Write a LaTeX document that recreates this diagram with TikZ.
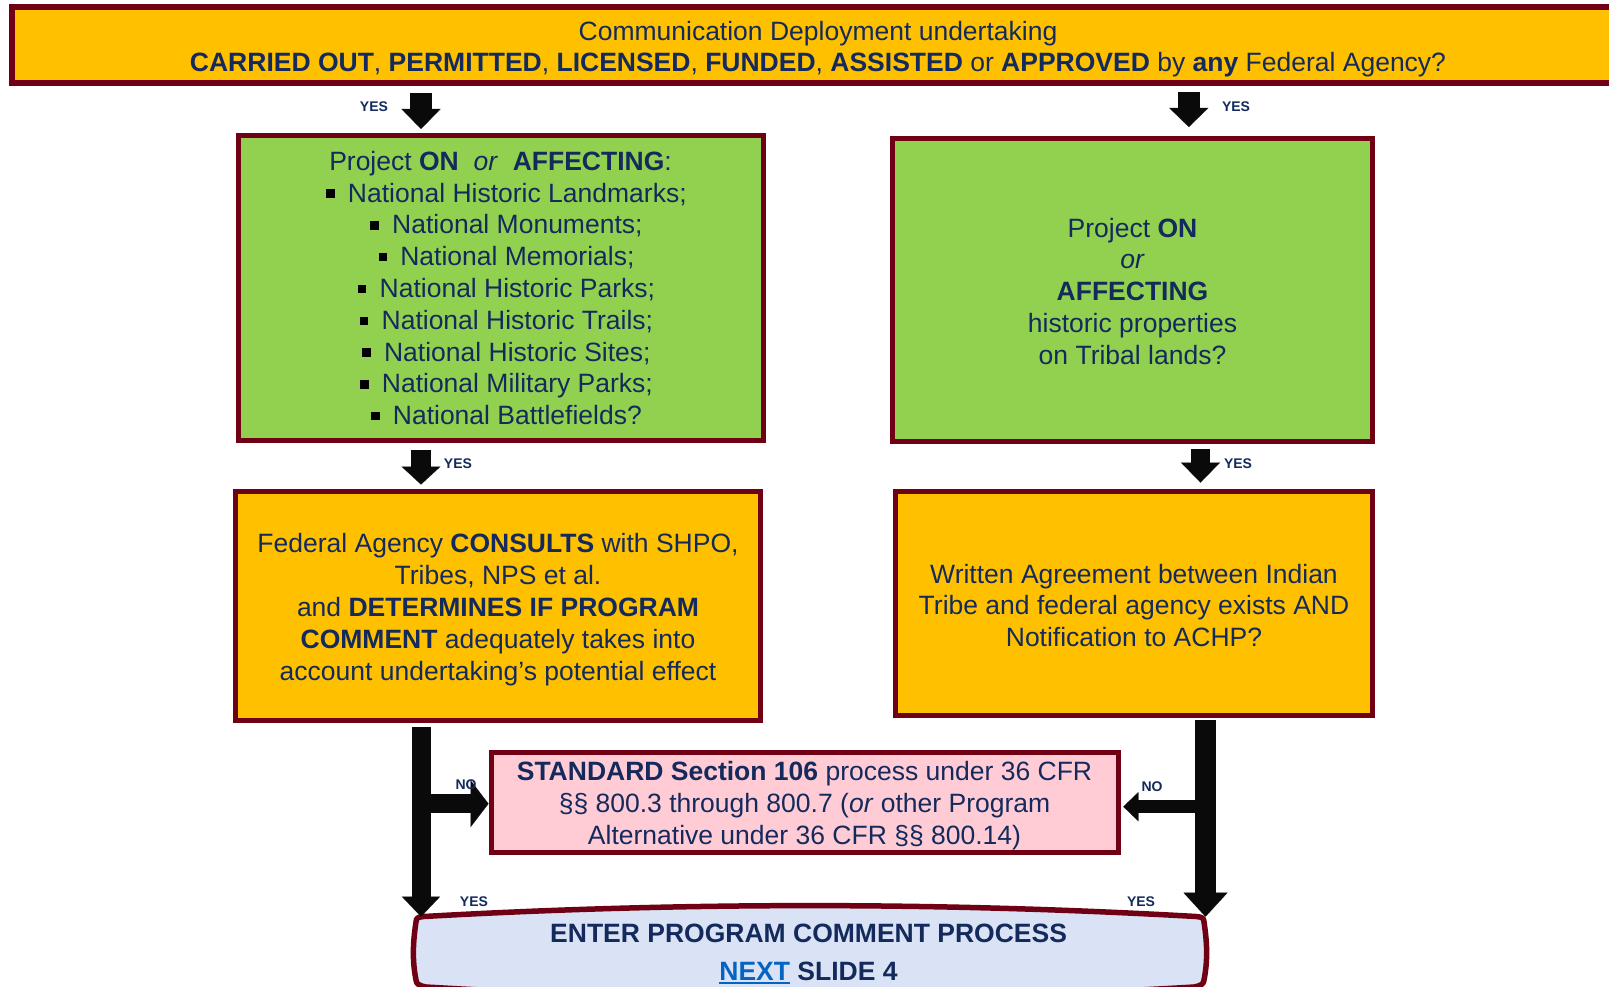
\documentclass[tikz,border=0pt]{standalone}
\usepackage{fontspec}
\setmainfont{Liberation Sans}
\usetikzlibrary{arrows.meta}
\definecolor{txtnavy}{RGB}{20,42,92}
\definecolor{bordc}{RGB}{112,0,20}
\definecolor{orng}{RGB}{255,192,0}
\definecolor{grn}{RGB}{146,208,80}
\definecolor{pnk}{RGB}{255,204,214}
\definecolor{lblue}{RGB}{218,227,245}
\definecolor{arrk}{RGB}{10,10,10}
\definecolor{linkblue}{RGB}{5,99,193}
\newcommand{\mainfs}{\fontsize{26.5pt}{31.8pt}\selectfont}
\newcommand{\mybul}{\hspace*{12pt}{\color{black}\rule[0.16em]{0.32em}{0.32em}}\hspace{0.5em}}
\newcommand{\myul}[1]{\setbox0\hbox{#1}\rlap{\rule[-4pt]{\wd0}{2.6pt}}\box0}
\newcommand{\topst}[1]{\rule{0pt}{#1}}
\begin{document}
\begin{tikzpicture}[x=1pt,y=-1pt,
  box/.style={draw=bordc, line width=5pt, inner sep=0pt, align=center, font=\mainfs, text=txtnavy},
  lbl/.style={font=\fontsize{14pt}{16pt}\selectfont\bfseries, text=txtnavy, inner sep=0pt},
  fat/.style n args={3}{draw=arrk, line width=#1, -{Triangle[width=#2,length=#3,line width=0.1pt]}}
]
\useasboundingbox (0,0) rectangle (1609,987);
\clip (0,0) rectangle (1609,987);

% column coordinates
\coordinate (xL) at (421,0);
\coordinate (xR) at (1188.8,0);
\coordinate (xR2) at (1200.5,0);
\coordinate (xR3) at (1205.5,0);
\coordinate (ybL) at (0,803.7);
\coordinate (ybR) at (0,806.7);

% boxes
\node[box, fill=orng, line width=6pt, minimum width=1612pt, minimum height=76pt] (top) at (818,45)
 {\topst{27.5pt}Communication Deployment undertaking\\
  \textbf{CARRIED OUT}, \textbf{PERMITTED}, \textbf{LICENSED}, \textbf{FUNDED}, \textbf{ASSISTED} or \textbf{APPROVED} by \textbf{any} Federal Agency?};

\node[box, fill=grn, minimum width=525pt, minimum height=305pt] (gl) at (500.5,288)
 {Project \textbf{ON}\ \ \textit{or}\ \ \textbf{AFFECTING}:\\
  \mybul National Historic Landmarks;\\
  \mybul National Monuments;\\
  \mybul National Memorials;\\
  \mybul National Historic Parks;\\
  \mybul National Historic Trails;\\
  \mybul National Historic Sites;\\
  \mybul National Military Parks;\\
  \mybul National Battlefields?};

\node[box, fill=grn, minimum width=480pt, minimum height=302pt] (gr) at (1132.5,290)
 {\topst{21.5pt}Project \textbf{ON}\\ \textit{or}\\ \textbf{AFFECTING}\\ historic properties\\ on Tribal lands?};

\node[box, fill=orng, minimum width=525pt, minimum height=229pt] (ol) at (498,605.5)
 {\topst{27.5pt}Federal Agency \textbf{CONSULTS} with SHPO,\\
  Tribes, NPS et al.\\
  and \textbf{DETERMINES IF PROGRAM}\\
  \textbf{COMMENT} adequately takes into\\
  account undertaking’s potential effect};

\node[box, fill=orng, minimum width=477pt, minimum height=224.5pt] (orr) at (1134,603.3)
 {\topst{23.5pt}Written Agreement between Indian\\
  Tribe and federal agency exists AND\\
  Notification to ACHP?};

\node[box, fill=pnk, minimum width=627pt, minimum height=99.5pt] (pk) at (804.5,802.3)
 {\topst{25.5pt}\textbf{STANDARD Section 106} process under 36 CFR\\
  §§ 800.3 through 800.7 (\textit{or} other Program\\
  Alternative under 36 CFR §§ 800.14)};

% bottom terminal shape
\filldraw[fill=lblue, draw=bordc, line width=5.5pt, line join=round]
 (416,922) .. controls (416,918) and (418,917) .. (424,916.5)
 .. controls (680,902) and (940,902) .. (1196,916.5)
 .. controls (1202,917) and (1204,918) .. (1204,922)
 .. controls (1207.5,945) and (1207.5,962) .. (1204,980)
 .. controls (1204,984) and (1200,986) .. (1194,987)
 .. controls (940,1002) and (680,1002) .. (426,987)
 .. controls (420,986) and (416,984) .. (416,980)
 .. controls (412.5,962) and (412.5,945) .. (416,922) -- cycle;
\node[inner sep=0pt, outer sep=0pt, minimum width=788pt, minimum height=66pt] (bt) at (810,949.7) {};
\node[font=\mainfs\bfseries, text=txtnavy, inner sep=0pt] (bt1) at (808.6,933.8) {ENTER PROGRAM COMMENT PROCESS};
\node[font=\mainfs\bfseries, text=txtnavy, inner sep=0pt, anchor=base] (bt2) at (808.5,980.3)
 {{\color{linkblue}\myul{NEXT}} SLIDE 4};

% short arrows
\draw[fat={21.5pt}{39pt}{20pt}, shorten <=7pt, shorten >=4pt] (top.south -| xL) -- (gl.north -| xL);
\draw[fat={21.5pt}{39pt}{19pt}, shorten <=6pt, shorten >=9.5pt] (top.south -| xR) -- (gr.north -| xR);
\draw[fat={19.6pt}{39pt}{18pt}, shorten <=7pt, shorten >=4pt] (gl.south -| xL) -- (ol.north -| xL);
\draw[fat={18.3pt}{39pt}{20pt}, shorten <=5pt, shorten >=6pt] (gr.south -| xR2) -- (orr.north -| xR2);

% branches to standard process
\draw[fat={19pt}{47pt}{18pt}] (ybL -| xL) -- (pk.west |- ybL);
\draw[fat={13pt}{29pt}{15pt}, shorten >=2.8pt] (ybR -| xR3) -- (pk.east |- ybR);

% long arrows
\draw[fat={19pt}{38pt}{20pt}, shorten <=4.5pt] (ol.south -| xL) -- (bt.north -| xL);
\draw[fat={21pt}{44pt}{24pt}, shorten <=1.5pt] (orr.south -| xR3) -- (bt.north -| xR3);

% labels
\node[lbl] (y1) at (374,107) {YES};
\node[lbl] (y2) at (1236,107) {YES};
\node[lbl] (y3) at (458,464) {YES};
\node[lbl] (y4) at (1238,464) {YES};
\node[lbl] (n1) at (466,785) {NO};
\node[lbl] (n2) at (1152,787) {NO};
\node[lbl] (y5) at (474,902) {YES};
\node[lbl] (y6) at (1141,902) {YES};
\end{tikzpicture}
\end{document}
